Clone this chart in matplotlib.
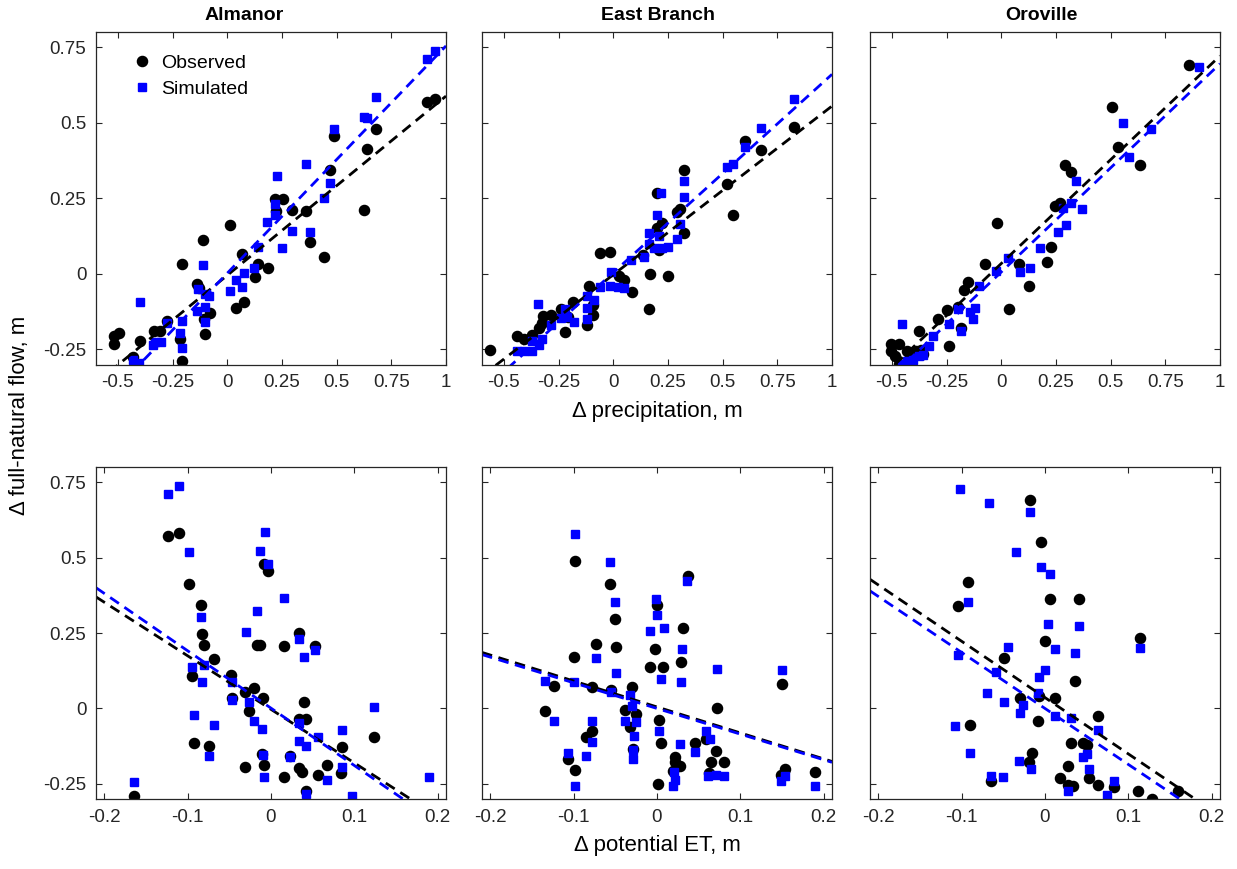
import numpy as np
import matplotlib
matplotlib.use("Agg")
import matplotlib.pyplot as plt

plt.rcParams['font.family'] = ['Liberation Sans', 'DejaVu Sans']

basins = ["Almanor", "East Branch", "Oroville"]

# ---- top row: d precipitation vs d flow ----
alm_p_obs_x = [-0.520, -0.518, -0.497, -0.431, -0.398, -0.335, -0.306, -0.275, -0.217, -0.208, -0.208,
               -0.138, -0.128, -0.110, -0.106, -0.101, -0.080, 0.012, 0.038, 0.076, 0.066, 0.127, 0.139,
               0.185, 0.216, 0.254, 0.223, 0.295, 0.359, 0.376, 0.443, 0.468, 0.486, 0.627, 0.639, 0.680,
               0.914, 0.948]
alm_p_obs_y = [-0.231, -0.206, -0.195, -0.275, -0.221, -0.190, -0.188, -0.155, -0.215, 0.033, -0.289,
               -0.035, -0.046, 0.111, -0.151, -0.198, -0.129, 0.163, -0.113, -0.094, 0.067, -0.010, 0.031,
               0.020, 0.249, 0.246, 0.208, 0.210, 0.208, 0.105, 0.055, 0.342, 0.456, 0.212, 0.412, 0.478,
               0.570, 0.579]
alm_p_sim_x = [-0.398, -0.430, -0.402, -0.341, -0.330, -0.304, -0.275, -0.216, -0.208, -0.208, -0.138,
               -0.133, -0.110, -0.101, -0.083, -0.101, -0.101, 0.011, 0.066, 0.038, 0.078, 0.124, 0.139,
               0.183, 0.216, 0.216, 0.229, 0.252, 0.295, 0.359, 0.376, 0.443, 0.468, 0.486, 0.624, 0.639,
               0.680, 0.911, 0.948]
alm_p_sim_y = [-0.094, -0.284, -0.295, -0.235, -0.227, -0.227, -0.164, -0.195, -0.247, -0.155, -0.124,
               -0.050, 0.028, -0.068, -0.074, -0.110, -0.160, -0.057, -0.044, -0.021, 0.003, 0.020, 0.089,
               0.172, 0.230, 0.196, 0.323, 0.085, 0.143, 0.364, 0.138, 0.251, 0.301, 0.480, 0.520, 0.517,
               0.585, 0.710, 0.737]

eb_p_obs_x = [-0.563, -0.440, -0.410, -0.372, -0.341, -0.326, -0.323, -0.284, -0.239, -0.222, -0.208,
              -0.183, -0.122, -0.112, -0.092, -0.092, -0.060, -0.014, 0.026, 0.049, 0.084, 0.135, 0.168,
              0.165, 0.199, 0.208, 0.199, 0.223, 0.248, 0.291, 0.306, 0.324, 0.324, 0.520, 0.547, 0.602,
              0.676, 0.826]
eb_p_obs_y = [-0.251, -0.206, -0.214, -0.201, -0.179, -0.162, -0.140, -0.135, -0.116, -0.193, -0.142,
              -0.094, -0.168, -0.041, -0.102, -0.135, 0.070, 0.072, -0.008, -0.019, -0.061, 0.061, 0.001,
              -0.116, 0.266, 0.078, 0.151, 0.169, -0.008, 0.204, 0.213, 0.136, 0.343, 0.296, 0.196, 0.439,
              0.409, 0.486]
eb_p_sim_x = [-0.440, -0.410, -0.372, -0.372, -0.341, -0.326, -0.344, -0.284, -0.239, -0.211, -0.219,
              -0.180, -0.122, -0.119, -0.119, -0.089, -0.061, -0.017, 0.021, 0.049, -0.012, 0.083, 0.142,
              0.165, 0.165, 0.199, 0.208, 0.188, 0.219, 0.223, 0.251, 0.291, 0.306, 0.324, 0.324, 0.521,
              0.547, 0.602, 0.676, 0.826]
eb_p_sim_y = [-0.256, -0.256, -0.256, -0.223, -0.234, -0.217, -0.099, -0.168, -0.146, -0.142, -0.118,
              -0.159, -0.149, -0.113, -0.074, -0.085, -0.043, -0.041, -0.044, -0.046, 0.007, 0.047, 0.056,
              0.100, 0.134, 0.196, 0.125, 0.086, 0.266, 0.086, 0.089, 0.116, 0.166, 0.255, 0.307, 0.353,
              0.362, 0.421, 0.483, 0.577]

oro_p_obs_x = [-0.502, -0.468, -0.506, -0.486, -0.468, -0.430, -0.391, -0.369, -0.376, -0.287, -0.249,
               -0.185, -0.239, -0.197, -0.170, -0.151, -0.075, -0.018, 0.034, 0.080, 0.128, 0.208, 0.229,
               0.246, 0.269, 0.291, 0.318, 0.505, 0.532, 0.633, 0.856, -0.419, -0.358]
oro_p_obs_y = [-0.231, -0.231, -0.256, -0.273, -0.297, -0.256, -0.256, -0.253, -0.190, -0.151, -0.120,
               -0.179, -0.240, -0.110, -0.055, -0.028, 0.031, 0.167, -0.115, 0.034, -0.041, 0.040, 0.089,
               0.224, 0.235, 0.360, 0.337, 0.552, 0.419, 0.361, 0.691, -0.270, -0.264]
oro_p_sim_x = [-0.453, -0.332, -0.312, -0.240, -0.197, -0.186, -0.144, -0.131, -0.121, -0.101, -0.024,
               0.032, 0.086, 0.131, 0.177, 0.258, 0.294, 0.281, 0.318, 0.341, 0.369, 0.555, 0.584, 0.683,
               0.905, -0.453, -0.430, -0.405, -0.376, -0.360]
oro_p_sim_y = [-0.166, -0.240, -0.206, -0.166, -0.116, -0.188, -0.127, -0.148, -0.113, -0.039, 0.010,
               0.052, 0.006, 0.019, 0.085, 0.137, 0.162, 0.217, 0.233, 0.306, 0.213, 0.500, 0.386, 0.478,
               0.684, -0.297, -0.289, -0.285, -0.273, -0.270]

# ---- bottom row: d potential ET vs d flow ----
alm_e_obs_x = [-0.165, -0.124, -0.111, -0.098, -0.084, -0.083, -0.081, -0.068, -0.095, -0.092, -0.075,
               -0.048, -0.047, -0.031, -0.020, -0.026, -0.031, -0.017, -0.013, -0.010, -0.008, -0.004,
               -0.011, -0.008, 0.015, 0.016, 0.023, 0.033, 0.037, 0.034, 0.039, 0.042, 0.034, 0.042, 0.053,
               0.056, 0.067, 0.085, 0.084, 0.124]
alm_e_obs_y = [-0.289, 0.570, 0.581, 0.412, 0.343, 0.247, 0.211, 0.163, 0.106, -0.113, -0.123, 0.111,
               0.033, 0.055, 0.067, -0.008, -0.194, 0.211, 0.211, 0.034, 0.479, 0.456, -0.150, -0.187,
               -0.228, 0.208, -0.156, -0.198, -0.209, 0.249, 0.020, -0.034, -0.035, -0.273, 0.208, -0.220,
               -0.187, -0.128, -0.214, -0.093]
alm_e_sim_x = [-0.164, -0.124, -0.111, -0.098, -0.084, -0.095, -0.081, -0.083, -0.092, -0.068, -0.075,
               -0.047, -0.047, -0.030, -0.026, -0.020, -0.017, -0.013, -0.007, -0.004, -0.011, -0.010,
               -0.008, 0.016, 0.023, 0.033, 0.034, 0.039, 0.034, 0.042, 0.042, 0.053, 0.056, 0.067, 0.085,
               0.085, 0.097, 0.124, 0.190]
alm_e_sim_y = [-0.245, 0.711, 0.737, 0.517, 0.302, 0.137, 0.145, 0.086, -0.021, -0.054, -0.159, 0.089,
               0.029, 0.253, 0.020, -0.043, 0.324, 0.522, 0.585, 0.479, -0.067, -0.153, -0.227, 0.365,
               -0.162, -0.109, 0.231, 0.172, -0.049, -0.124, -0.284, 0.194, -0.093, -0.236, -0.073, -0.194,
               -0.291, 0.004, -0.227]

eb_e_obs_x = [-0.098, -0.057, -0.051, -0.049, -0.073, -0.100, -0.124, -0.135, -0.078, -0.055, -0.030,
              -0.038, -0.033, -0.025, -0.029, -0.078, -0.085, -0.107, -0.098, -0.008, 0.007, -0.002, 0.000,
              0.002, 0.005, 0.001, 0.021, 0.022, 0.027, 0.019, 0.029, 0.031, 0.037, 0.045, 0.059, 0.071,
              0.065, 0.080, 0.062, 0.072, 0.150, 0.154, 0.149, 0.190]
eb_e_obs_y = [0.487, 0.412, 0.297, 0.202, 0.214, 0.170, 0.074, -0.007, 0.070, 0.062, 0.070, -0.004,
              -0.060, -0.019, -0.134, -0.076, -0.093, -0.167, -0.203, 0.136, 0.136, 0.198, 0.343, -0.038,
              -0.115, -0.251, -0.162, -0.176, -0.192, -0.206, 0.153, 0.266, 0.440, -0.115, -0.102, -0.140,
              -0.176, -0.179, -0.214, 0.001, 0.081, -0.201, -0.220, -0.212]
eb_e_sim_x = [-0.098, -0.057, -0.051, -0.049, -0.073, -0.100, -0.135, -0.124, -0.078, -0.078, -0.085,
              -0.107, -0.098, -0.055, -0.033, -0.030, -0.038, -0.025, -0.028, -0.029, -0.029, -0.008,
              -0.001, 0.000, 0.008, 0.005, 0.002, 0.027, 0.020, 0.021, 0.019, 0.030, 0.029, 0.036, 0.045,
              0.059, 0.064, 0.072, 0.061, 0.071, 0.080, 0.150, 0.154, 0.149, 0.190]
eb_e_sim_y = [0.577, 0.485, 0.354, 0.117, 0.167, 0.087, 0.092, -0.043, -0.043, -0.112, -0.157, -0.146,
              -0.256, 0.056, 0.043, 0.009, -0.043, -0.046, -0.091, -0.139, -0.167, 0.255, 0.362, 0.308,
              0.268, 0.098, -0.074, -0.118, -0.211, -0.238, -0.256, 0.196, 0.086, 0.423, -0.145, -0.076,
              -0.102, 0.131, -0.223, -0.220, -0.223, 0.126, -0.223, -0.242, -0.256]

oro_e_obs_x = [-0.018, -0.005, -0.092, -0.104, 0.006, 0.041, 0.000, 0.114, -0.049, 0.036, -0.030,
               -0.007, 0.012, -0.009, -0.090, 0.064, 0.031, 0.046, 0.050, -0.016, -0.019, 0.027, -0.065,
               0.018, 0.027, 0.034, 0.053, 0.063, 0.083, 0.111, 0.128, 0.160]
oro_e_obs_y = [0.691, 0.552, 0.418, 0.338, 0.362, 0.362, 0.224, 0.234, 0.167, 0.092, 0.036, 0.040, 0.033,
               -0.040, -0.054, -0.026, -0.115, -0.113, -0.120, -0.148, -0.178, -0.190, -0.240, -0.231,
               -0.253, -0.256, -0.231, -0.255, -0.260, -0.275, -0.299, -0.275]
oro_e_sim_x = [-0.102, -0.067, -0.018, -0.035, -0.005, 0.006, -0.092, 0.003, 0.041, -0.045, 0.012, 0.036,
               0.114, -0.104, 0.000, -0.007, -0.059, -0.070, -0.009, -0.049, -0.027, -0.030, 0.012, 0.031,
               0.064, -0.108, -0.090, 0.050, 0.046, 0.053, -0.031, -0.017, -0.065, -0.050, 0.083, 0.028,
               0.074]
oro_e_sim_y = [0.726, 0.682, 0.650, 0.517, 0.468, 0.444, 0.353, 0.279, 0.272, 0.203, 0.196, 0.183, 0.200,
               0.178, 0.128, 0.104, 0.120, 0.051, 0.051, 0.020, 0.012, -0.015, -0.024, -0.030, -0.071,
               -0.057, -0.148, -0.151, -0.161, -0.201, -0.174, -0.200, -0.223, -0.228, -0.241, -0.275,
               -0.286]

# fitted lines: (slope, intercept)
p_fit_obs = [(0.593, -0.005), (0.558, -0.003), (0.687, 0.034)]
p_fit_sim = [(0.752, 0.002), (0.656, 0.004), (0.689, 0.006)]
e_fit_obs = [(-1.774, -0.003), (-0.860, 0.005), (-1.866, 0.036)]
e_fit_sim = [(-1.900, 0.001), (-0.850, 0.000), (-1.855, 0.000)]

p_ticks = [-0.5, -0.25, 0, 0.25, 0.5, 0.75, 1]
p_ticklabels = ["-0.5", "-0.25", "0", "0.25", "0.5", "0.75", "1"]
e_ticks = [-0.2, -0.1, 0, 0.1, 0.2]
e_ticklabels = ["-0.2", "-0.1", "0", "0.1", "0.2"]
y_ticks = [-0.25, 0, 0.25, 0.5, 0.75]
y_ticklabels = ["-0.25", "0", "0.25", "0.5", "0.75"]

top = [(alm_p_obs_x, alm_p_obs_y, alm_p_sim_x, alm_p_sim_y),
       (eb_p_obs_x, eb_p_obs_y, eb_p_sim_x, eb_p_sim_y),
       (oro_p_obs_x, oro_p_obs_y, oro_p_sim_x, oro_p_sim_y)]
bot = [(alm_e_obs_x, alm_e_obs_y, alm_e_sim_x, alm_e_sim_y),
       (eb_e_obs_x, eb_e_obs_y, eb_e_sim_x, eb_e_sim_y),
       (oro_e_obs_x, oro_e_obs_y, oro_e_sim_x, oro_e_sim_y)]

W, H = 1237, 869
fig = plt.figure(figsize=(W / 100, H / 100), dpi=100)

lefts = [96, 482, 870]
width = 350
rows = [(32, 364.5), (467, 799)]
title_x = [244, 658, 1041]   # title centres in pixels, as placed in the reference
frame_col = '#262626'
blue = '#0000ff'


def style(ax, xt, xtl, xlim, show_y):
    ax.set_xlim(*xlim)
    ax.set_ylim(-0.3, 0.8)
    ax.set_xticks(xt)
    ax.set_xticklabels(xtl)
    ax.set_yticks(y_ticks)
    ax.set_yticklabels(y_ticklabels if show_y else [])
    ax.tick_params(direction='in', top=True, right=True, length=4.5, width=0.8,
                   labelsize=13.5, colors=frame_col, pad=7)
    for s in ax.spines.values():
        s.set_color(frame_col)
        s.set_linewidth(0.9)


def draw(ax, data, fo, fs, xlim):
    ox, oy, sx, sy = data
    ax.plot(ox, oy, 'o', color='k', ms=7.3, mec='k', ls='none', label='Observed')
    ax.plot(sx, sy, 's', color=blue, ms=5.8, mec=blue, ls='none', label='Simulated')
    xx = np.array(xlim)
    ax.plot(xx, fo[0] * xx + fo[1], color='k', lw=2.0, dashes=(3.8, 2.4))
    ax.plot(xx, fs[0] * xx + fs[1], color=blue, lw=2.0, dashes=(3.8, 2.4))


axes = []
for r, (yt, yb) in enumerate(rows):
    for c in range(3):
        ax = fig.add_axes([lefts[c] / W, 1 - yb / H, width / W, (yb - yt) / H])
        if r == 0:
            xlim = (-0.6, 1.0)
            draw(ax, top[c], p_fit_obs[c], p_fit_sim[c], xlim)
            style(ax, p_ticks, p_ticklabels, xlim, c == 0)
            fig.text(title_x[c] / W, 1 - 16 / H, basins[c], fontsize=14, fontweight='bold',
                     ha='center', va='center')
        else:
            xlim = (-0.21, 0.21)
            draw(ax, bot[c], e_fit_obs[c], e_fit_sim[c], xlim)
            style(ax, e_ticks, e_ticklabels, xlim, c == 0)
        axes.append(ax)

axes[0].legend(loc='upper left', frameon=False, fontsize=14, handletextpad=0.25,
               borderaxespad=0.3, labelspacing=0.45, handlelength=1.5,
               bbox_to_anchor=(0.05, 0.975))
axes[1].set_xlabel('Δ precipitation, m', fontsize=16, labelpad=7)
axes[4].set_xlabel('Δ potential ET, m', fontsize=16, labelpad=7)
fig.text(20 / W, 1 - 415 / H, 'Δ full-natural flow, m', rotation=90, fontsize=16,
         ha='center', va='center')

fig.savefig('out.png', dpi=100)
